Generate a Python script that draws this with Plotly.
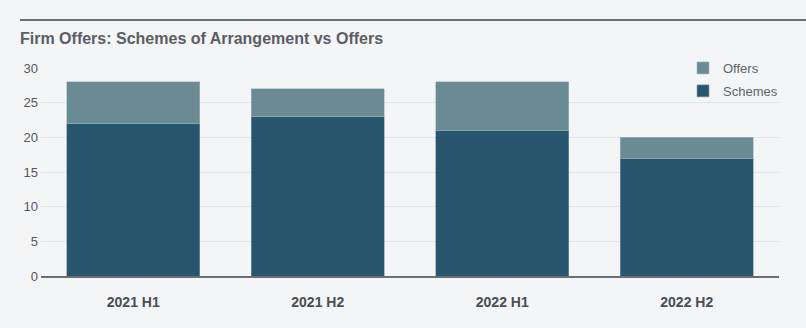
import plotly.graph_objects as go

categories = ["2021 H1", "2021 H2", "2022 H1", "2022 H2"]
schemes = [22, 23, 21, 17]
offers = [6, 4, 7, 3]
y_ticks = [0, 5, 10, 15, 20, 25, 30]

W, H = 806, 328
L, R, T, B = 41, 27, 68, 52
pw = W - L - R
ph = H - T - B

fig = go.Figure()
fig.add_trace(go.Bar(x=categories, y=schemes, name="Schemes", legendgroup="s", legendrank=2,
                     marker=dict(color="#28566f", line=dict(color="#7f9aa8", width=0.6))))
fig.add_trace(go.Bar(x=categories, y=offers, name="Offers", legendgroup="o", legendrank=1,
                     marker=dict(color="#6a8a94", line=dict(color="#a4b8bf", width=0.6))))

fig.update_layout(
    width=W, height=H,
    margin=dict(l=L, r=R, t=T, b=B),
    barmode="stack", bargap=0.28,
    paper_bgcolor="#f4f5f7", plot_bgcolor="#f4f5f7",
    font=dict(family="Liberation Sans, Arial, sans-serif", color="#55585d"),
    title=dict(text="<b>Firm Offers: Schemes of Arrangement vs Offers</b>",
               x=20 / W, xref="container", xanchor="left",
               y=1 - 38 / H, yref="container", yanchor="middle",
               font=dict(size=16, color="#5a5e64")),
    legend=dict(x=(683 - L) / pw, y=(276 - 53) / ph, xanchor="left", yanchor="top",
                bgcolor="rgba(0,0,0,0)", font=dict(size=13, color="#606368"),
                tracegroupgap=3, traceorder="grouped"),
    showlegend=True,
)
fig.update_xaxes(showgrid=False, showline=True, linecolor="#6b6e72", linewidth=1.5,
                 tickfont=dict(size=14, color="#4a4d52", family="Liberation Sans, Arial, sans-serif"),
                 tickprefix="<b>", ticksuffix="</b>", ticklabelstandoff=12)
fig.update_yaxes(range=[0, 30], tickvals=y_ticks, showgrid=True, gridcolor="#e2e4e7",
                 gridwidth=1, zeroline=False, showline=False, ticklabelstandoff=2,
                 tickfont=dict(size=13, color="#55585d"))

fig.add_shape(type="line", xref="paper", yref="paper",
              x0=(20 - L) / pw, x1=(W - L) / pw,
              y0=(H - B - 20) / ph, y1=(H - B - 20) / ph,
              line=dict(color="#6b6e72", width=2))

fig.write_html("out.html")
